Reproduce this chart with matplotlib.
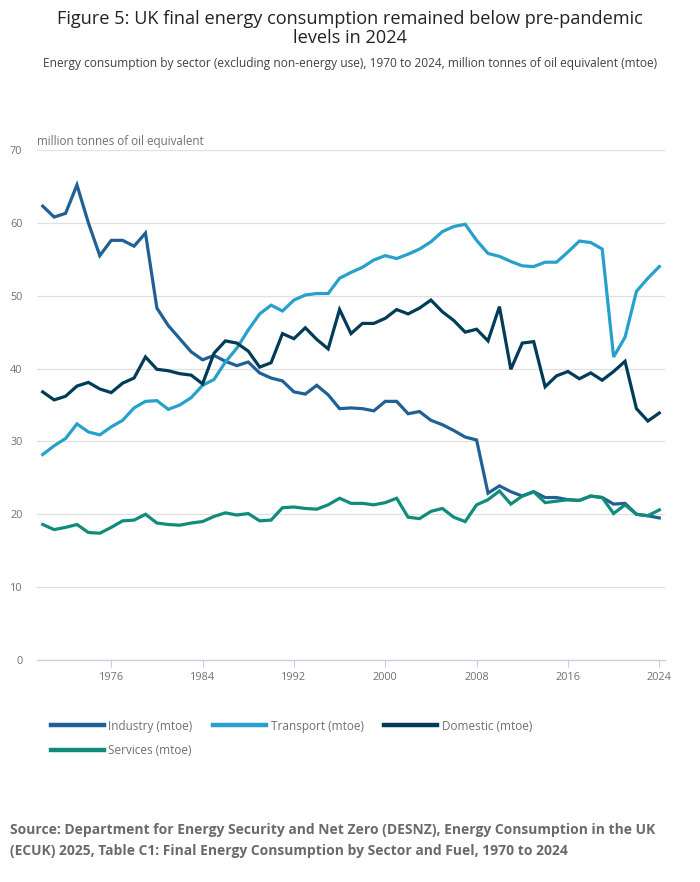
import numpy as np
import matplotlib
matplotlib.use("Agg")
import matplotlib.pyplot as plt
from matplotlib.lines import Line2D

plt.rcParams["font.family"] = ["Open Sans", "DejaVu Sans"]

# ── Data (mtoe) ─────────────────────────────────────────────────────────────
years = list(range(1970, 2025))

industry = [62.3, 60.8, 61.3, 65.2, 60.0, 55.5, 57.6, 57.6, 56.8, 58.6,
            48.3, 45.9, 44.1, 42.3, 41.2, 41.8, 41.0, 40.4, 40.9, 39.4,
            38.7, 38.3, 36.8, 36.5, 37.7, 36.4, 34.5, 34.6, 34.5, 34.2,
            35.5, 35.5, 33.8, 34.1, 32.9, 32.3, 31.5, 30.6, 30.2, 22.9,
            23.9, 23.1, 22.5, 23.1, 22.3, 22.3, 22.0, 21.9, 22.5, 22.3,
            21.4, 21.5, 20.0, 19.8, 19.5]

transport = [28.2, 29.4, 30.4, 32.4, 31.3, 30.9, 32.0, 32.9, 34.6, 35.5,
             35.6, 34.4, 35.0, 36.0, 37.7, 38.5, 40.9, 42.8, 45.3, 47.5,
             48.7, 47.9, 49.4, 50.1, 50.3, 50.3, 52.4, 53.2, 53.9, 54.9,
             55.5, 55.1, 55.7, 56.4, 57.4, 58.8, 59.5, 59.8, 57.6, 55.8,
             55.4, 54.7, 54.1, 54.0, 54.6, 54.6, 56.0, 57.5, 57.3, 56.4,
             41.6, 44.3, 50.6, 52.4, 54.0]

domestic = [36.8, 35.7, 36.2, 37.6, 38.1, 37.2, 36.7, 38.0, 38.7, 41.6,
            39.9, 39.7, 39.3, 39.1, 37.9, 42.1, 43.8, 43.5, 42.4, 40.2,
            40.8, 44.8, 44.1, 45.6, 44.0, 42.7, 48.1, 44.8, 46.2, 46.2,
            46.9, 48.1, 47.5, 48.3, 49.4, 47.8, 46.6, 45.0, 45.4, 43.8,
            48.5, 39.9, 43.5, 43.7, 37.5, 39.0, 39.6, 38.6, 39.4, 38.4,
            39.6, 41.0, 34.5, 32.8, 33.9]

services = [18.6, 17.9, 18.2, 18.6, 17.5, 17.4, 18.2, 19.1, 19.2, 20.0,
            18.8, 18.6, 18.5, 18.8, 19.0, 19.7, 20.2, 19.9, 20.1, 19.1,
            19.2, 20.9, 21.0, 20.8, 20.7, 21.3, 22.2, 21.5, 21.5, 21.3,
            21.6, 22.2, 19.6, 19.4, 20.4, 20.8, 19.6, 19.0, 21.3, 22.0,
            23.2, 21.4, 22.5, 23.1, 21.6, 21.8, 22.0, 21.9, 22.5, 22.3,
            20.1, 21.3, 20.0, 19.8, 20.6]

series_names = ["Industry (mtoe)", "Transport (mtoe)", "Domestic (mtoe)", "Services (mtoe)"]
series_vals = [industry, transport, domestic, services]
COLORS = ["#206095", "#27a0cc", "#003c57", "#118c7b"]

xticks = [1976, 1984, 1992, 2000, 2008, 2016, 2024]
yticks = [0, 10, 20, 30, 40, 50, 60, 70]

# ── Figure ──────────────────────────────────────────────────────────────────
fig = plt.figure(figsize=(7.0, 8.82), dpi=100)
ax = fig.add_axes([37 / 700, 1 - 660 / 882, 628 / 700, 510 / 882])

for vals, c, name in zip(series_vals, COLORS, series_names):
    ax.plot(years, vals, color=c, lw=2.3, solid_joinstyle="miter",
            label=name, zorder=3)

ax.set_xlim(1969.5, 2024.5)
ax.set_ylim(0, 70)
ax.set_xticks(xticks)
ax.set_yticks(yticks)
ax.grid(axis="y", color="#e0e0e0", lw=0.9, zorder=0)
ax.set_axisbelow(True)

for s in ["top", "right", "left"]:
    ax.spines[s].set_visible(False)
ax.spines["bottom"].set_color("#c5cfe0")
ax.spines["bottom"].set_linewidth(0.9)

ax.tick_params(axis="x", colors="#c5cfe0", length=5, width=0.8,
               labelcolor="#707070", labelsize=7.8, pad=4)
ax.tick_params(axis="y", length=0, labelcolor="#707070", labelsize=7.8, pad=10.5)

fig.text(37 / 700, 1 - 142 / 882, "million tonnes of oil equivalent",
         fontsize=8.4, color="#707070", va="center", ha="left")

# ── Titles ─────────────────────────────────────────────────────────────────
fig.text(0.5, 1 - 28.5 / 882,
         "Figure 5: UK final energy consumption remained below pre-pandemic\nlevels in 2024",
         ha="center", va="center", fontsize=13.1, color="#222222",
         linespacing=1.12)
fig.text(0.5, 1 - 64 / 882,
         "Energy consumption by sector (excluding non-energy use), 1970 to 2024, "
         "million tonnes of oil equivalent (mtoe)",
         ha="center", va="center", fontsize=8.6, color="#414042")

# ── Legend ──────────────────────────────────────────────────────────────────
handles = [Line2D([], [], color=c, lw=3.2) for c in COLORS]
order = [0, 3, 1, 2]
fig.legend([handles[i] for i in order], [series_names[i] for i in order],
           loc="upper left", bbox_to_anchor=(40 / 700, 1 - 709 / 882),
           ncol=3, frameon=False, fontsize=8.5, labelcolor="#707070",
           handlelength=4.5, handletextpad=0.4, columnspacing=1.7,
           labelspacing=1.0)

# ── Source ──────────────────────────────────────────────────────────────────
fig.text(10 / 700, 1 - 840.5 / 882,
         "Source: Department for Energy Security and Net Zero (DESNZ), Energy Consumption in the UK\n"
         "(ECUK) 2025, Table C1: Final Energy Consumption by Sector and Fuel, 1970 to 2024",
         ha="left", va="center", fontsize=10, fontweight="bold", color="#6a6a6a",
         linespacing=1.65)

fig.savefig("out.png", dpi=100)
